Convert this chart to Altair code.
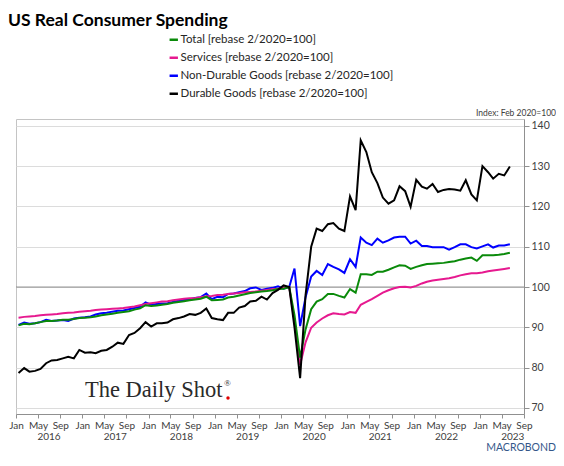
import altair as alt
import pandas as pd

# ---------------- data (monthly, Jan 2016 .. Jun 2023) ----------------
start_month = "2016-01"
n_months = 90

total = [
    90.5, 90.9, 90.8, 91.0, 91.3, 91.6, 91.6, 91.7, 91.9, 91.9, 92.1, 92.3,
    92.4, 92.5, 92.7, 93.0, 93.2, 93.4, 93.6, 93.8, 94.0, 94.4, 94.7, 95.5,
    95.3, 95.4, 95.6, 95.8, 96.1, 96.3, 96.5, 96.7, 96.9, 97.1, 97.6, 96.7,
    96.8, 96.9, 97.4, 97.6, 97.9, 98.2, 98.5, 98.7, 98.9, 99.0, 99.2, 99.5,
    99.6, 100.0, 93.0, 82.5, 89.5, 94.5, 96.4, 97.0, 98.3, 98.3, 97.8, 97.4,
    99.5, 98.6, 103.2, 103.2, 103.0, 103.8, 103.8, 104.3, 104.9, 105.4, 105.3, 104.5,
    105.0, 105.4, 105.7, 105.8, 105.9, 106.0, 106.2, 106.4, 106.8, 107.1, 107.3, 106.5,
    107.9, 107.9, 107.9, 108.0, 108.2, 108.5,
]
services = [
    92.4, 92.6, 92.7, 92.8, 93.0, 93.1, 93.2, 93.3, 93.5, 93.6, 93.7, 93.9,
    94.0, 94.1, 94.3, 94.4, 94.5, 94.6, 94.7, 94.8, 95.0, 95.2, 95.5, 95.8,
    96.0, 96.2, 96.4, 96.5, 96.7, 96.9, 97.1, 97.2, 97.3, 97.5, 97.7, 97.8,
    98.0, 98.1, 98.3, 98.4, 98.5, 98.7, 98.8, 98.9, 99.1, 99.3, 99.5, 99.6,
    99.8, 100.0, 91.5, 80.7, 86.3, 89.9, 91.2, 92.2, 93.0, 93.5, 93.3, 93.2,
    93.8, 93.6, 95.6, 96.3, 97.0, 97.8, 98.6, 99.2, 99.7, 100.0, 100.1, 99.9,
    100.3, 100.9, 101.3, 101.6, 101.8, 102.0, 102.2, 102.5, 102.9, 103.2, 103.4, 103.4,
    103.6, 103.9, 104.1, 104.3, 104.5, 104.7,
]
nondurable = [
    90.6, 91.2, 90.9, 91.0, 91.3, 91.9, 91.6, 91.7, 91.8, 91.6, 92.2, 92.4,
    92.5, 92.7, 93.2, 93.5, 93.6, 93.9, 94.1, 94.2, 94.5, 94.8, 95.1, 96.2,
    95.6, 95.8, 95.9, 96.0, 96.3, 96.6, 96.8, 97.0, 97.3, 97.5, 98.4, 97.0,
    97.6, 97.5, 98.3, 98.4, 98.7, 99.0, 99.7, 99.9, 99.3, 99.6, 99.8, 100.2,
    99.6, 100.0, 104.6, 90.3, 97.5, 102.6, 104.0, 103.0, 105.7, 105.0, 104.4, 103.5,
    106.9, 105.0, 112.3, 111.0, 110.4, 112.0, 111.0, 111.6, 112.3, 112.5, 112.5, 110.8,
    111.5, 110.2, 110.2, 109.9, 109.9, 109.9, 109.3, 109.9, 110.6, 110.6, 109.9, 109.6,
    110.1, 110.6, 109.8, 110.3, 110.3, 110.6,
]
durable = [
    78.7, 79.9, 79.0, 79.2, 79.7, 81.1, 81.8, 81.9, 82.3, 82.7, 82.3, 84.4,
    83.7, 83.8, 83.6, 84.2, 84.4, 85.2, 86.2, 85.9, 88.1, 88.6, 89.8, 91.3,
    90.2, 91.0, 91.0, 91.2, 92.0, 92.3, 92.7, 93.3, 93.1, 93.6, 94.7, 92.3,
    92.0, 91.8, 93.6, 93.6, 94.9, 95.3, 96.4, 96.6, 97.6, 96.9, 98.5, 99.3,
    100.4, 100.0, 90.0, 77.4, 98.0, 110.0, 114.5, 113.9, 115.6, 115.9, 114.5, 113.9,
    122.5, 119.1, 136.4, 133.5, 128.5, 125.8, 122.2, 120.7, 121.5, 125.0, 123.8, 119.9,
    126.6, 124.9, 124.4, 125.6, 123.6, 124.1, 124.3, 124.2, 123.9, 126.5, 123.0, 121.5,
    130.0, 128.5, 126.9, 128.1, 127.7, 129.9,
]

series_names = [
    "Total [rebase 2/2020=100]",
    "Services [rebase 2/2020=100]",
    "Non-Durable Goods [rebase 2/2020=100]",
    "Durable Goods [rebase 2/2020=100]",
]
series_colors = ["#0a8a0a", "#e6198f", "#0000ff", "#000000"]
draw_order = [2, 1, 0, 3]  # blue, pink, green, black on top

years = [2016, 2017, 2018, 2019, 2020, 2021, 2022, 2023]
y_ticks = [70, 80, 90, 100, 110, 120, 130, 140]
title_text = "US Real Consumer Spending"
unit_text = "Index: Feb 2020=100"

# ---------------- tables ----------------
dates = [
    (pd.Period(start_month, freq="M") + i).strftime("%Y-%m") + "-15T00:00:00"
    for i in range(n_months)
]
all_series = [total, services, nondurable, durable]
rows = []
for k in draw_order:
    for d, v in zip(dates, all_series[k]):
        rows.append({"date": d, "value": v, "series": series_names[k], "k": draw_order.index(k)})
df = pd.DataFrame(rows)

tick_dates = []
for yv in years:
    for mo in (1, 5, 9):
        tick_dates.append(alt.DateTime(year=yv, month=mo, date=1))
year_df = pd.DataFrame({"date": [f"{yv}-07-01T00:00:00" for yv in years], "label": [str(yv) for yv in years]})

PAD_L, PAD_T, PAD_R, PAD_B = 8, 111, 32, 44
W, H = 508, 295
OX = 8 + PAD_L      # page x of plot left
OY = 8 + PAD_T      # page y of plot top
FONT = "Lato"

x_scale = alt.Scale(domain=[alt.DateTime(year=2016, month=1, date=1), alt.DateTime(year=2023, month=9, date=1)])
y_scale = alt.Scale(domain=[68.5, 141.7], nice=False, zero=False)

x_axis = alt.Axis(
    values=tick_dates, format="%b", labelFontSize=10, labelColor="#404040", labelFont=FONT,
    tickSize=4, tickColor="#909090", domainColor="#909090", grid=False, labelPadding=2,
    labelFlush=False, labelOverlap=False,
)
y_axis = alt.Axis(
    orient="right", values=y_ticks, labelFontSize=10.5, labelColor="#404040", labelFont=FONT,
    tickSize=5, tickColor="#909090", domainColor="#909090", gridColor="#dcdcdc",
    labelPadding=2,
)

ref = alt.Chart(pd.DataFrame({"value": [100]})).mark_rule(color="#8c8c8c", strokeWidth=1).encode(
    y=alt.Y("value:Q", scale=y_scale, axis=y_axis, title=None)
)

lines = alt.Chart(df).mark_line(strokeWidth=2, clip=True).encode(
    x=alt.X("date:T", scale=x_scale, axis=x_axis, title=None),
    y=alt.Y("value:Q", scale=y_scale, axis=y_axis, title=None),
    color=alt.Color(
        "series:N",
        scale=alt.Scale(domain=series_names, range=series_colors),
        legend=alt.Legend(
            orient="none", legendX=156 + 12 - OX, legendY=-85, title=None, symbolType="stroke",
            symbolSize=70, symbolStrokeWidth=2.5, labelFontSize=11.5, labelFont=FONT,
            labelColor="#262626", rowPadding=5, labelOffset=1, padding=0, labelLimit=400,
        ),
    ),
    order=alt.Order("k:Q"),
    detail="series:N",
)

year_labels = alt.Chart(year_df).mark_text(
    fontSize=10, font=FONT, color="#404040", baseline="middle", align="center"
).encode(
    x=alt.X("date:T", scale=x_scale, axis=x_axis, title=None),
    y=alt.value(H + 23),
    text="label:N",
)

title = alt.Chart(pd.DataFrame({"t": [title_text]})).mark_text(
    fontSize=17.5, font=FONT, fontWeight="bold", color="#000000", align="left", baseline="alphabetic"
).encode(x=alt.value(8 - OX), y=alt.value(26 - OY), text="t:N")

unit = alt.Chart(pd.DataFrame({"t": [unit_text]})).mark_text(
    fontSize=8.5, font=FONT, color="#404040", align="right", baseline="middle"
).encode(x=alt.value(W + PAD_R), y=alt.value(113 - OY), text="t:N")

logo = alt.Chart(pd.DataFrame({"t": ["The Daily Shot"]})).mark_text(
    fontSize=22.5, font="Liberation Serif", color="#2a2a2a", align="left", baseline="alphabetic"
).encode(x=alt.value(85 - OX), y=alt.value(397 - OY), text="t:N")

logo_reg = alt.Chart(pd.DataFrame({"t": ["®"]})).mark_text(
    fontSize=9, font="Liberation Serif", color="#2a2a2a", align="left", baseline="middle"
).encode(x=alt.value(224 - OX), y=alt.value(383 - OY), text="t:N")

logo_dot = alt.Chart(pd.DataFrame({"t": [1]})).mark_point(
    filled=True, color="#e00000", size=12, opacity=1
).encode(x=alt.value(228 - OX), y=alt.value(398 - OY))

brand = alt.Chart(pd.DataFrame({"t": ["MACROBOND"]})).mark_text(
    fontSize=10.5, font=FONT, color="#34578a", align="right", baseline="middle"
).encode(x=alt.value(W + PAD_R), y=alt.value(448 - OY), text="t:N")

chart = alt.layer(ref, lines, year_labels, title, unit, logo, logo_reg, logo_dot, brand).properties(
    width=W, height=H,
    autosize=alt.AutoSizeParams(type="none"),
    padding={"left": PAD_L, "top": PAD_T, "right": PAD_R, "bottom": PAD_B},
    background="white",
).configure_view(stroke="#c4c4c4", strokeWidth=1)

chart.save("out.html", embed_options={"renderer": "svg", "actions": False})
